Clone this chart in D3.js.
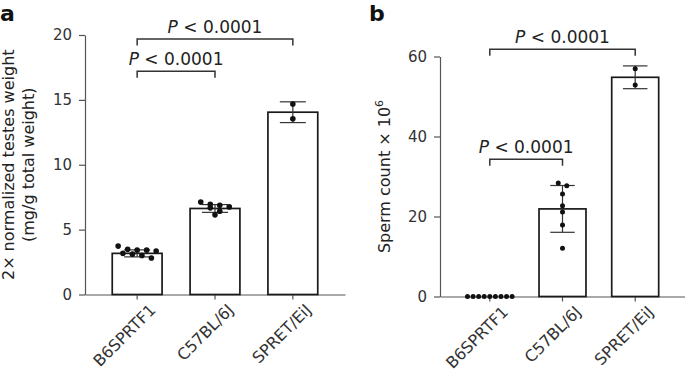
<!DOCTYPE html>
<html>
<head>
<meta charset="utf-8">
<script src="https://cdn.jsdelivr.net/npm/d3@7"></script>
<style>
  body { margin: 0; background: #fff; }
  svg { display: block; font-family: "DejaVu Sans", sans-serif; }
</style>
</head>
<body>
<svg id="chart" width="685" height="380"></svg>
<script>
// strains on the x axis
const strains = ["B6SPRTF1", "C57BL/6J", "SPRET/EiJ"];

// panel a: 2x normalized testes weight (mg/g total weight)
const testesB6 = [3.35, 3.48, 2.81, 3.73, 3.17, 3.42, 3.01, 3.11, 3.42];
const testesC57 = [7.12, 6.68, 6.14, 6.96, 6.88, 6.42, 6.75];
const testesSpret = [14.68, 13.55];
const testesMean = [3.17, 6.63, 14.05];
const testesSd = [0.27, 0.3, 0.8];
const testesTicks = [0, 5, 10, 15, 20];
const testesPairs = [[0, 1], [0, 2]];

// panel b: sperm count x 10^6
const spermB6 = [0, 0, 0, 0, 0, 0, 0, 0, 0];
const spermC57 = [28.4, 27.7, 25.6, 22.7, 21.1, 17.9, 12.05];
const spermSpret = [56.95, 52.9];
const spermMean = [0, 21.9, 54.8];
const spermSd = [0, 5.85, 2.85];
const spermTicks = [0, 20, 40, 60];
const spermPairs = [[0, 1], [0, 2]];

const pLabel = "0.0001";

const svg = d3.select("#chart");

function swarm(values, y, cx, rowH, step, maxW) {
  // GraphPad-like scatter: group close values in rows, spread each row
  const pts = values.map(v => ({ v: v, py: y(v) })).sort((a, b) => a.py - b.py);
  const rows = [];
  pts.forEach(p => {
    const row = rows[rows.length - 1];
    if (!row || p.py - row[0].py > rowH) rows.push([p]);
    else row.push(p);
  });
  rows.forEach(row => {
    const n = row.length;
    const s = n > 1 ? Math.min(step, maxW / (n - 1)) : 0;
    row.forEach((p, i) => { p.px = cx + (i - (n - 1) / 2) * s; });
  });
  return pts;
}

function drawPanel(cfg) {
  const g = svg.append("g");

  const x = d3.scaleBand()
    .domain(strains)
    .range(cfg.xRange)
    .paddingInner(cfg.padInner)
    .paddingOuter(cfg.padOuter);

  const y = d3.scaleLinear()
    .domain([0, cfg.ticks[cfg.ticks.length - 1]])
    .range(cfg.yRange);

  // y axis
  const yAxis = g.append("g")
    .attr("transform", `translate(${cfg.xRange[0]},0)`)
    .call(d3.axisLeft(y).tickValues(cfg.ticks).tickSize(6).tickSizeOuter(0).tickPadding(7));
  yAxis.selectAll("path, line").attr("stroke", "#555").attr("stroke-width", 1.2);
  yAxis.selectAll("text").attr("font-size", 15).attr("fill", "#333").attr("font-family", "DejaVu Sans");

  // x axis
  const xAxis = g.append("g")
    .attr("transform", `translate(0,${cfg.yRange[0]})`)
    .call(d3.axisBottom(x).tickSize(5).tickSizeOuter(0));
  xAxis.selectAll("path, line").attr("stroke", "#555").attr("stroke-width", 1.2);
  xAxis.selectAll("text")
    .attr("font-size", 16)
    .attr("fill", "#333")
    .attr("font-family", "DejaVu Sans")
    .attr("text-anchor", "end")
    .attr("transform", "translate(11,8) rotate(-45)")
    .attr("dy", "0.75em")
    .attr("y", 0);

  // bars
  g.selectAll(".bar")
    .data(cfg.mean)
    .join("rect")
    .attr("x", (d, i) => x(strains[i]))
    .attr("y", d => y(d))
    .attr("width", x.bandwidth())
    .attr("height", d => y(0) - y(d))
    .attr("fill", "#fff")
    .attr("stroke", "#1a1a1a")
    .attr("stroke-width", 1.7);

  // error bars (mean +/- sd)
  const eb = g.selectAll(".eb")
    .data(cfg.mean.map((m, i) => ({ m: m, s: cfg.sd[i], i: i })).filter(d => d.s > 0))
    .join("g")
    .attr("stroke", "#333")
    .attr("stroke-width", 1.2);
  eb.append("line")
    .attr("x1", d => x(strains[d.i]) + x.bandwidth() / 2)
    .attr("x2", d => x(strains[d.i]) + x.bandwidth() / 2)
    .attr("y1", d => y(d.m + d.s))
    .attr("y2", d => y(d.m - d.s));
  [1, -1].forEach(sign => {
    eb.append("line")
      .attr("x1", d => x(strains[d.i]) + x.bandwidth() / 2 - cfg.cap / 2)
      .attr("x2", d => x(strains[d.i]) + x.bandwidth() / 2 + cfg.cap / 2)
      .attr("y1", d => y(d.m + sign * d.s))
      .attr("y2", d => y(d.m + sign * d.s));
  });

  // individual points
  cfg.points.forEach((vals, i) => {
    const cx = x(strains[i]) + x.bandwidth() / 2;
    const pts = swarm(vals, y, cx, cfg.rowH, cfg.step, x.bandwidth() * 0.95);
    g.append("g").selectAll("circle")
      .data(pts)
      .join("circle")
      .attr("cx", d => d.px)
      .attr("cy", d => d.py)
      .attr("r", cfg.r)
      .attr("fill", "#111");
  });

  // significance brackets
  cfg.pairs.forEach((pair, k) => {
    const x1 = x(strains[pair[0]]) + x.bandwidth() / 2;
    const x2 = x(strains[pair[1]]) + x.bandwidth() / 2;
    const yy = y(cfg.bracketLevels[k]);
    g.append("path")
      .attr("d", `M${x1},${yy + 6.5}V${yy}H${x2}V${yy + 6.5}`)
      .attr("fill", "none")
      .attr("stroke", "#333")
      .attr("stroke-width", 1.5);
    const t = g.append("text")
      .attr("x", (x1 + x2) / 2)
      .attr("y", yy - 6)
      .attr("text-anchor", "middle")
      .attr("font-size", 17)
      .attr("fill", "#222");
    t.append("tspan").attr("font-style", "italic").text("P");
    t.append("tspan").text(" < " + pLabel);
  });

  // y axis title
  const ty = g.append("text")
    .attr("transform", `translate(${cfg.titleX},${(cfg.yRange[0] + cfg.yRange[1]) / 2}) rotate(-90)`)
    .attr("text-anchor", "middle")
    .attr("font-size", 16)
    .attr("fill", "#222");
  cfg.title(ty);

  // panel letter
  g.append("text")
    .attr("x", cfg.letterX)
    .attr("y", 21)
    .attr("font-size", 22)
    .attr("font-weight", "bold")
    .attr("fill", "#111")
    .text(cfg.letter);
}

drawPanel({
  letter: "a", letterX: 0,
  xRange: [85, 345], yRange: [294.5, 35],
  padInner: 0.36, padOuter: 0.35,
  ticks: testesTicks,
  mean: testesMean, sd: testesSd,
  points: [testesB6, testesC57, testesSpret],
  pairs: testesPairs, bracketLevels: [17.2, 19.7],
  r: 2.8, rowH: 5, step: 9.5, cap: 26,
  titleX: 14,
  title: t => {
    t.append("tspan").attr("x", 0).attr("dy", "0em").text("2\u00d7 normalized testes weight");
    t.append("tspan").attr("x", 0).attr("dy", "1.25em").text("(mg/g total weight)");
  }
});

drawPanel({
  letter: "b", letterX: 369,
  xRange: [440, 685], yRange: [296.5, 56.5],
  padInner: 0.354, padOuter: 0.362,
  ticks: spermTicks,
  mean: spermMean, sd: spermSd,
  points: [spermB6, spermC57, spermSpret],
  pairs: spermPairs, bracketLevels: [34.3, 61.8],
  r: 2.5, rowH: 5, step: 8.5, cap: 24.5,
  titleX: 390,
  title: t => {
    t.append("tspan").text("Sperm count \u00d7 10");
    t.append("tspan").attr("font-size", 11).attr("dy", "-0.6em").text("6");
  }
});
</script>
</body>
</html>
